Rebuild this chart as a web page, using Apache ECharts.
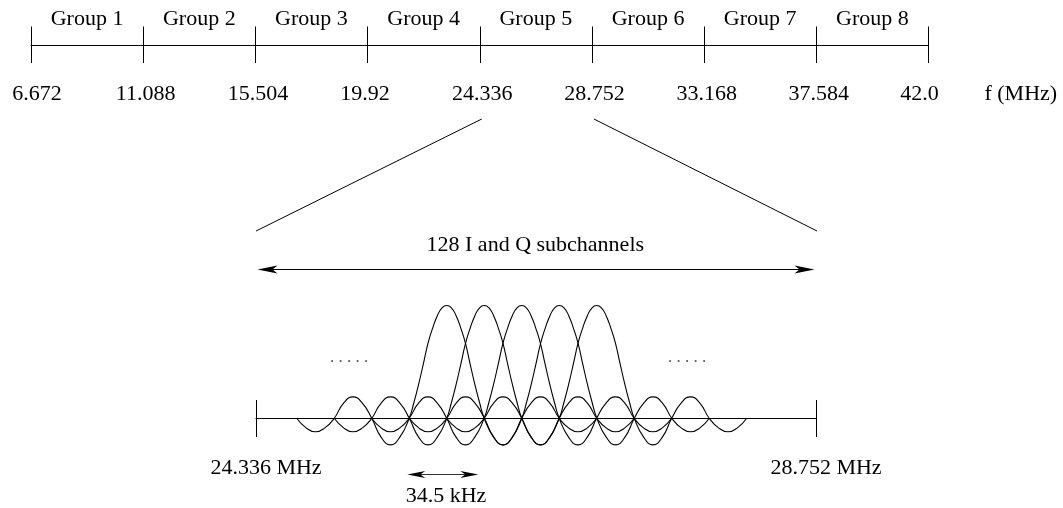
<!DOCTYPE html>
<html>
<head>
<meta charset="utf-8">
<script src="https://cdn.jsdelivr.net/npm/echarts@6/dist/echarts.min.js"></script>
<style>
html,body{margin:0;padding:0;background:#fff;}
#c{width:1063px;height:508px;}
</style>
</head>
<body>
<div id="c"></div>
<script>
// ---- data ----
const groupNames = ['Group 1','Group 2','Group 3','Group 4','Group 5','Group 6','Group 7','Group 8'];
const tickLabels = ['6.672','11.088','15.504','19.92','24.336','28.752','33.168','37.584','42.0'];
const zoomTickLabels = ['24.336 MHz','28.752 MHz'];
const zoomSpan = 4.416;                 // width of the zoomed band (MHz, offset from 24.336)
const zoomedGroup = 4;                  // index of left tick of the zoomed band on top axis
const subchannelCenters = [1.504, 1.800, 2.095, 2.392, 2.687];   // offset MHz
const subchannelSpacing = 0.2957;       // offset MHz per subchannel (as drawn)
// one subchannel's spectrum, sampled in units of the subchannel spacing
const lobeU = [-4,-3.75,-3.5,-3.25,-3,-2.75,-2.5,-2.25,-2,-1.75,-1.5,-1.25,-1,
               -0.875,-0.75,-0.625,-0.5,-0.375,-0.25,-0.125,0,0.125,0.25,0.375,0.5,0.625,0.75,0.875,
               1,1.25,1.5,1.75,2,2.25,2.5,2.75,3,3.25,3.5,3.75,4];
const lobeV = [0,-0.085,-0.12,-0.085,0,0.135,0.19,0.135,0,-0.167,-0.236,-0.167,0,
               0.14,0.3,0.48,0.665,0.8,0.91,0.98,1,0.98,0.91,0.8,0.665,0.48,0.3,0.14,
               0,-0.167,-0.236,-0.167,0,0.135,0.19,0.135,0,-0.085,-0.12,-0.085,0];
const spacingArrow = [1.193, 1.753];    // offset MHz
const spacingLabel = '34.5 kHz';
const bandLabel = '128 I and Q subchannels';
const axisName = 'f (MHz)';
const ellipsis = '. . . . .';

// ---- chart ----
const FONT = "'Liberation Serif','Times New Roman',serif";
const chart = echarts.init(document.getElementById('c'), null, {renderer: 'canvas'});
const nudge = ['b','a','a','c','a','a','a','a','d'];
const richBase = {fontSize: 22, fontFamily: FONT, color: '#000'};
const rich = {
  a: Object.assign({padding: [0,0,0,5]}, richBase),
  b: Object.assign({padding: [0,0,0,12]}, richBase),
  c: Object.assign({padding: [0,5,0,0]}, richBase),
  d: Object.assign({padding: [0,18,0,0]}, richBase)
};
const black = {color: '#000', width: 1};

const curveSeries = subchannelCenters.map((c, k) => ({
  type: 'line', xAxisIndex: 3, yAxisIndex: 2, smooth: true, symbol: 'none',
  silent: true, animation: false, clip: false,
  lineStyle: {color: '#000', width: 1.1},
  data: lobeU.map((u, i) => [c + u * subchannelSpacing, lobeV[i]])
}));

const option = {
  backgroundColor: '#fff',
  animation: false,
  grid: [
    {left: 31, width: 897.5, top: 26.5, height: 36.5, containLabel: false, outerBoundsMode: 'none'},
    {left: 256, width: 560, top: 400, height: 37, containLabel: false, outerBoundsMode: 'none'},
    {left: 256, width: 560, top: 305.5, height: 146.6, containLabel: false, outerBoundsMode: 'none'}
  ],
  xAxis: [
    {gridIndex: 0, type: 'value', min: 0, max: tickLabels.length - 1, interval: 1,
     axisLine: {show: true, onZero: true, lineStyle: black},
     axisTick: {show: false},
     splitLine: {show: true, lineStyle: black},
     axisLabel: {margin: 20, fontSize: 22, fontFamily: FONT, color: '#000', rich: rich,
       formatter: (v) => '{' + nudge[Math.round(v)] + '|' + tickLabels[Math.round(v)] + '}'}},
    {gridIndex: 0, type: 'category', position: 'top', data: groupNames, boundaryGap: true,
     axisLine: {show: false}, axisTick: {show: false}, splitLine: {show: false},
     axisLabel: {margin: -4, fontSize: 22, fontFamily: FONT, color: '#000', interval: 0}},
    {gridIndex: 1, type: 'value', min: 0, max: zoomSpan, interval: zoomSpan,
     axisLine: {show: true, onZero: true, lineStyle: black},
     axisTick: {show: false},
     splitLine: {show: true, lineStyle: black},
     axisLabel: {margin: 20, fontSize: 22, fontFamily: FONT, color: '#000', padding: [0,0,0,20],
       formatter: (v) => zoomTickLabels[v === 0 ? 0 : 1]}},
    {gridIndex: 2, type: 'value', min: 0, max: zoomSpan, show: false}
  ],
  yAxis: [
    {gridIndex: 0, type: 'value', min: -1, max: 1, show: false},
    {gridIndex: 1, type: 'value', min: -1, max: 1, show: false},
    {gridIndex: 2, type: 'value', min: -0.3, max: 1.0, show: false}
  ],
  series: [
    {type: 'line', xAxisIndex: 0, yAxisIndex: 0, data: [], symbol: 'none'},
    {type: 'line', xAxisIndex: 2, yAxisIndex: 1, data: [], symbol: 'none'}
  ].concat(curveSeries)
};
chart.setOption(option);

// ---- annotations (connectors, arrows, free text) positioned through the axes ----
const topX = v => chart.convertToPixel({xAxisIndex: 0}, v);
const lowX = v => chart.convertToPixel({xAxisIndex: 2}, v);
const curX = v => chart.convertToPixel({xAxisIndex: 3}, v);

function line(x1, y1, x2, y2, color) {
  return {type: 'line', silent: true, shape: {x1, y1, x2, y2},
          style: {stroke: color || '#000', lineWidth: 1}};
}
function head(tipX, y, dir, L, W, N) {
  return {type: 'polygon', silent: true,
          shape: {points: [[tipX, y], [tipX + dir * L, y - W], [tipX + dir * (L - N), y], [tipX + dir * L, y + W]]},
          style: {fill: '#000'}};
}
function dblArrow(xa, xb, y, L, W, N, color) {
  return [line(xa + 4, y, xb - 4, y, color), head(xa, y, 1, L, W, N), head(xb, y, -1, L, W, N)];
}
function text(str, x, y, size, color) {
  return {type: 'text', silent: true, x: x, y: y,
          style: {text: str, fontSize: size, fontFamily: FONT, fill: color || '#000',
                  align: 'center', verticalAlign: 'middle'}};
}

const xL = lowX(0), xR = lowX(zoomSpan);
const graphics = [
  line(topX(zoomedGroup) + 2, 119, xL, 231),
  line(topX(zoomedGroup + 1) + 2, 119, xR + 1, 231),
  text(bandLabel, 535.3, 245, 22),
  text(axisName, 1020.8, 94.3, 22),
  text(spacingLabel, 446, 496.6, 22),
  text(ellipsis, 349, 357.8, 17, '#555'),
  text(ellipsis, 687, 357.8, 17, '#555')
].concat(
  dblArrow(xL + 1.5, xR - 1.5, 269.5, 20, 4, 5),
  dblArrow(curX(spacingArrow[0]), curX(spacingArrow[1]), 474.5, 18, 3.5, 5, '#333')
);
chart.setOption({graphic: graphics});
</script>
</body>
</html>
